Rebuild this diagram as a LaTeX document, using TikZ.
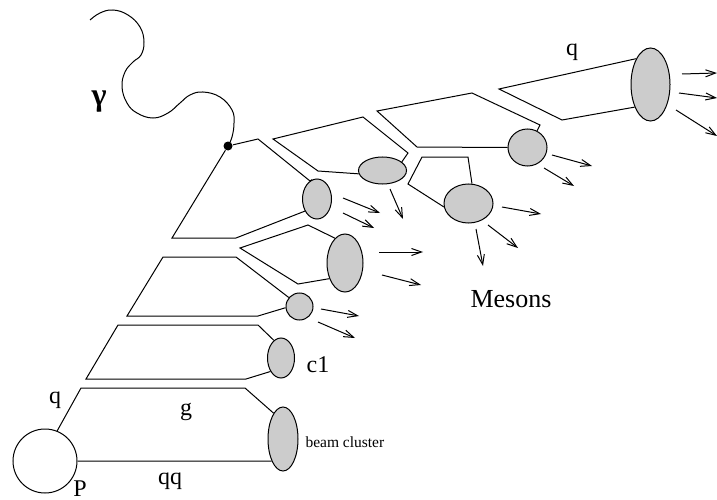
\documentclass[tikz,border=0pt]{standalone}
\usepackage{fontspec}
\setmainfont{Liberation Serif}
\usetikzlibrary{shapes.geometric,arrows.meta}
\definecolor{clgray}{RGB}{204,204,204}
\begin{document}
\begin{tikzpicture}[x=1pt,y=-1pt,line width=1pt,
  clus/.style={ellipse,draw,fill=clgray,inner sep=0pt,line width=1pt},
  meson/.style={-{Straight Barb[length=10pt,width=7pt,line width=1pt]}},
  lbl/.style={anchor=base,inner sep=0pt,font=\fontsize{24}{24}\selectfont}]
\useasboundingbox (0,0) rectangle (717,500);

% clusters
\node[clus,minimum width=29pt,minimum height=40pt] (k1) at (317,199) {};
\node[clus,minimum width=36pt,minimum height=58pt] (k2) at (345,263) {};
\node[clus,minimum width=27pt,minimum height=27pt] (k3) at (299.5,306.5) {};
\node[clus,minimum width=27pt,minimum height=40pt] (kc) at (281,358) {};
\node[clus,minimum width=30pt,minimum height=64pt] (kb) at (283,439) {};
\node[clus,minimum width=48pt,minimum height=27pt] (cA) at (382.5,170.5) {};
\node[clus,minimum width=39pt,minimum height=37pt] (cB) at (527.5,147.5) {};
\node[clus,minimum width=49pt,minimum height=39pt] (cC) at (468.5,203.5) {};
\node[clus,minimum width=39pt,minimum height=73pt] (cD) at (650.5,84.5) {};
\node[circle,draw,minimum size=64pt,inner sep=0pt] (P) at (45,461) {};
\node[circle,fill,minimum size=9pt,inner sep=0pt] (v) at (228,146) {};

% photon
\draw plot[smooth,tension=0.7] coordinates {(90,20) (100,13) (113,10) (128,15) (140,27) (144,42) (141,55) (133,62) (125,72) (122,87) (127,103) (137,113) (153,118) (168,113) (180,103) (190,95) (203,92) (220,97) (232,110) (234,123) (232,137) (228,146)};

% strings
\draw (k1.104) -- (310,181) -- (258,139) -- (v);
\draw (v) -- (172,238) -- (236,238) -- (k1.225);
\draw (k2.112) -- (308,225) -- (240,248) -- (298,284) -- (k2.225);
\draw (k3.140) -- (236,257) -- (163,257) -- (127,316) -- (258,316) -- (k3.185);
\draw (kc.112) -- (258,325) -- (118,325) -- (86,379) -- (246,379) -- (kc.232);
\draw (kb.110) -- (245,388) -- (81,388) -- (P.68);
\draw (P.east) -- (kb.243);
\draw (cA.24) -- (408,153) -- (363,117) -- (273,139) -- (318,171) -- (cA.188);
\draw (cB.60) -- (540,125) -- (472,93) -- (377,111) -- (417,147) -- (cB.180);
\draw (cC.80) -- (468,157) -- (422,157) -- (408,184) -- (cC.188);
\draw (cD.119) -- (499,89) -- (562,120) -- (cD.235);

% mesons
\draw[meson] (343,198) -- (380,213);
\draw[meson] (343,213) -- (374,228);
\draw[meson] (390,189) -- (403,219);
\draw[meson] (552,155) -- (592,166);
\draw[meson] (544,168) -- (574,186);
\draw[meson] (502,207) -- (541,214);
\draw[meson] (488,225) -- (518,248);
\draw[meson] (476,229) -- (483,266);
\draw[meson] (682,74) -- (717,73);
\draw[meson] (679,93) -- (717,98);
\draw[meson] (676,110) -- (717,136);
\draw[meson] (379,252) -- (423,252);
\draw[meson] (382,275) -- (421,285);
\draw[meson] (321,309) -- (359,316);
\draw[meson] (318,322) -- (355,338);

% labels
\node[inner sep=0pt,anchor=center,font=\bfseries\fontsize{32}{32}\selectfont] (gam) at (99,102) {γ};
\node[lbl] (qtop) at (572,56) {q};
\node[lbl] (qleft) at (55,403) {q};
\node[lbl] (glbl) at (186,415) {g};
\node[lbl] (qqlbl) at (170,484) {qq};
\node[lbl] (Plbl) at (80,496) {P};
\node[lbl] (c1lbl) at (318,372) {c1};
\node[lbl,anchor=base west,font=\fontsize{15.5}{15.5}\selectfont] (bc) at (305,447) {beam cluster};
\node[lbl,font=\fontsize{26}{26}\selectfont] (mes) at (511,307) {Mesons};
\end{tikzpicture}
\end{document}
